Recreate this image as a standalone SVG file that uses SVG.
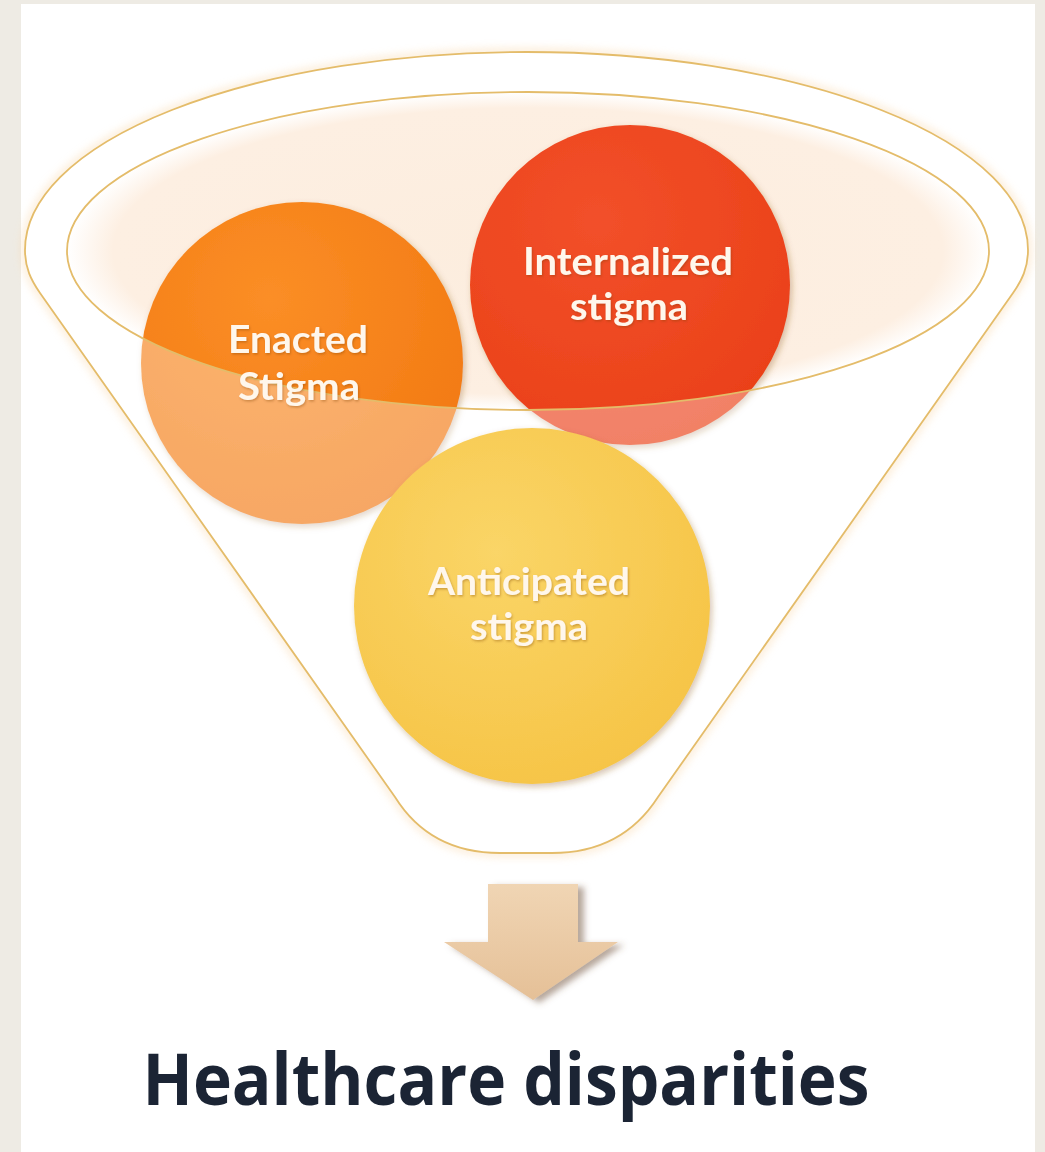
<svg xmlns="http://www.w3.org/2000/svg" width="1045" height="1152" viewBox="0 0 1045 1152">
  <style>
    .label { font-family: Lato, "Liberation Sans", sans-serif; font-weight: 700; font-size: 38px; fill: #FFF7EC; text-anchor: middle; }
    .rim { fill: none; stroke: #E4BC6A; stroke-width: 1.8; }
    .glow { fill: none; stroke: #F9D9AE; stroke-width: 7; opacity: 0.55; }
    .title { font-family: "Open Sans", "Liberation Sans", sans-serif; font-weight: 700; font-size: 72px; fill: #1B2434; text-anchor: middle; }
  </style>
  <defs>
    <radialGradient id="gEnacted" cx="0.4" cy="0.3" r="0.75">
      <stop offset="0" stop-color="#FB8E26"/>
      <stop offset="1" stop-color="#F27912"/>
    </radialGradient>
    <radialGradient id="gInternal" cx="0.4" cy="0.3" r="0.75">
      <stop offset="0" stop-color="#F2502A"/>
      <stop offset="1" stop-color="#EA4018"/>
    </radialGradient>
    <radialGradient id="gAnticip" cx="0.4" cy="0.35" r="0.7">
      <stop offset="0" stop-color="#FAD567"/>
      <stop offset="1" stop-color="#F6C446"/>
    </radialGradient>
    <radialGradient id="gRim" cx="0.5" cy="0.5" r="0.5">
      <stop offset="0" stop-color="#FCEDDE"/>
      <stop offset="0.9" stop-color="#FDEFE2"/>
      <stop offset="1" stop-color="#FFFFFF"/>
    </radialGradient>
    <linearGradient id="gArrow" x1="0" y1="0" x2="0" y2="1">
      <stop offset="0" stop-color="#F0D5B4"/>
      <stop offset="1" stop-color="#E5C097"/>
    </linearGradient>
    <filter id="shade" x="-10%" y="-10%" width="125%" height="125%">
      <feDropShadow dx="2" dy="3" stdDeviation="3" flood-color="#8A5520" flood-opacity="0.35"/>
    </filter>
    <filter id="arrowShade" x="-20%" y="-20%" width="150%" height="150%">
      <feDropShadow dx="6" dy="3" stdDeviation="3" flood-color="#6E5034" flood-opacity="0.5"/>
    </filter>
    <filter id="soft" x="-5%" y="-5%" width="110%" height="110%">
      <feGaussianBlur stdDeviation="4"/>
    </filter>
    <filter id="textShade" x="-10%" y="-20%" width="120%" height="150%">
      <feDropShadow dx="1" dy="1.5" stdDeviation="1" flood-color="#7A3A10" flood-opacity="0.35"/>
    </filter>
  </defs>

  <!-- page and white panel -->
  <rect x="0" y="0" width="1045" height="1152" fill="#EEEBE4"/>
  <rect x="21" y="4" width="1014" height="1148" fill="#FFFFFF"/>

  <!-- funnel body -->
  <g id="funnel">
    <path class="glow" filter="url(#soft)" d="M 25,250 A 501.5 198 0 0 1 1028,250 C 1028,268 1022,280 1013,293 L 658,797 Q 622,853 552,853 L 500,853 Q 430,853 395,797 L 40,293 C 31,280 25,268 25,250 Z"/>
    <path fill="#FFFFFF" d="M 25,250 A 501.5 198 0 0 1 1028,250 C 1028,268 1022,280 1013,293 L 658,797 Q 622,853 552,853 L 500,853 Q 430,853 395,797 L 40,293 C 31,280 25,268 25,250 Z"/>
    <ellipse cx="528" cy="251" rx="461" ry="159" fill="url(#gRim)"/>
  </g>

  <!-- upper circles, sitting in the funnel mouth -->
  <g id="node-enacted">
    <circle cx="302" cy="363" r="161" fill="url(#gEnacted)" filter="url(#shade)"/>
  </g>
  <g id="node-internalized">
    <circle cx="630" cy="285" r="160" fill="url(#gInternal)" filter="url(#shade)"/>
  </g>

  <!-- translucent funnel wall: fades whatever lies below the mouth -->
  <path fill="#FFFFFF" fill-opacity="0.34" fill-rule="evenodd" d="M 25,250 A 501.5 198 0 0 1 1028,250 C 1028,268 1022,280 1013,293 L 658,797 Q 622,853 552,853 L 500,853 Q 430,853 395,797 L 40,293 C 31,280 25,268 25,250 Z M 67,251 A 461 159 0 1 0 989,251 A 461 159 0 1 0 67,251 Z"/>

  <g id="node-anticipated">
    <circle cx="532" cy="606" r="178" fill="url(#gAnticip)" filter="url(#shade)"/>
  </g>

  <!-- funnel outlines -->
  <g id="funnel-outline">
    <path class="rim" d="M 25,250 A 501.5 198 0 0 1 1028,250 C 1028,268 1022,280 1013,293 L 658,797 Q 622,853 552,853 L 500,853 Q 430,853 395,797 L 40,293 C 31,280 25,268 25,250 Z"/>
    <ellipse class="rim" cx="528" cy="251" rx="461" ry="159"/>
  </g>

  <!-- circle labels -->
  <g id="labels" filter="url(#textShade)">
    <text class="label" x="298" y="353" textLength="140" lengthAdjust="spacingAndGlyphs">Enacted</text>
    <text class="label" x="299" y="400" textLength="122" lengthAdjust="spacingAndGlyphs">Stigma</text>
    <text class="label" x="628" y="275" textLength="210" lengthAdjust="spacingAndGlyphs">Internalized</text>
    <text class="label" x="629" y="320" textLength="118" lengthAdjust="spacingAndGlyphs">stigma</text>
    <text class="label" x="529" y="595" textLength="202" lengthAdjust="spacingAndGlyphs">Anticipated</text>
    <text class="label" x="529" y="640" textLength="118" lengthAdjust="spacingAndGlyphs">stigma</text>
  </g>

  <!-- downward arrow to the outcome -->
  <g id="connectors">
    <path d="M 488,884 L 578,884 L 578,942 L 618,942 L 533,1000 L 444,942 L 488,942 Z" fill="url(#gArrow)" filter="url(#arrowShade)"/>
  </g>

  <g id="node-outcome">
    <text class="title" x="506" y="1105" textLength="727" lengthAdjust="spacingAndGlyphs">Healthcare disparities</text>
  </g>
</svg>
